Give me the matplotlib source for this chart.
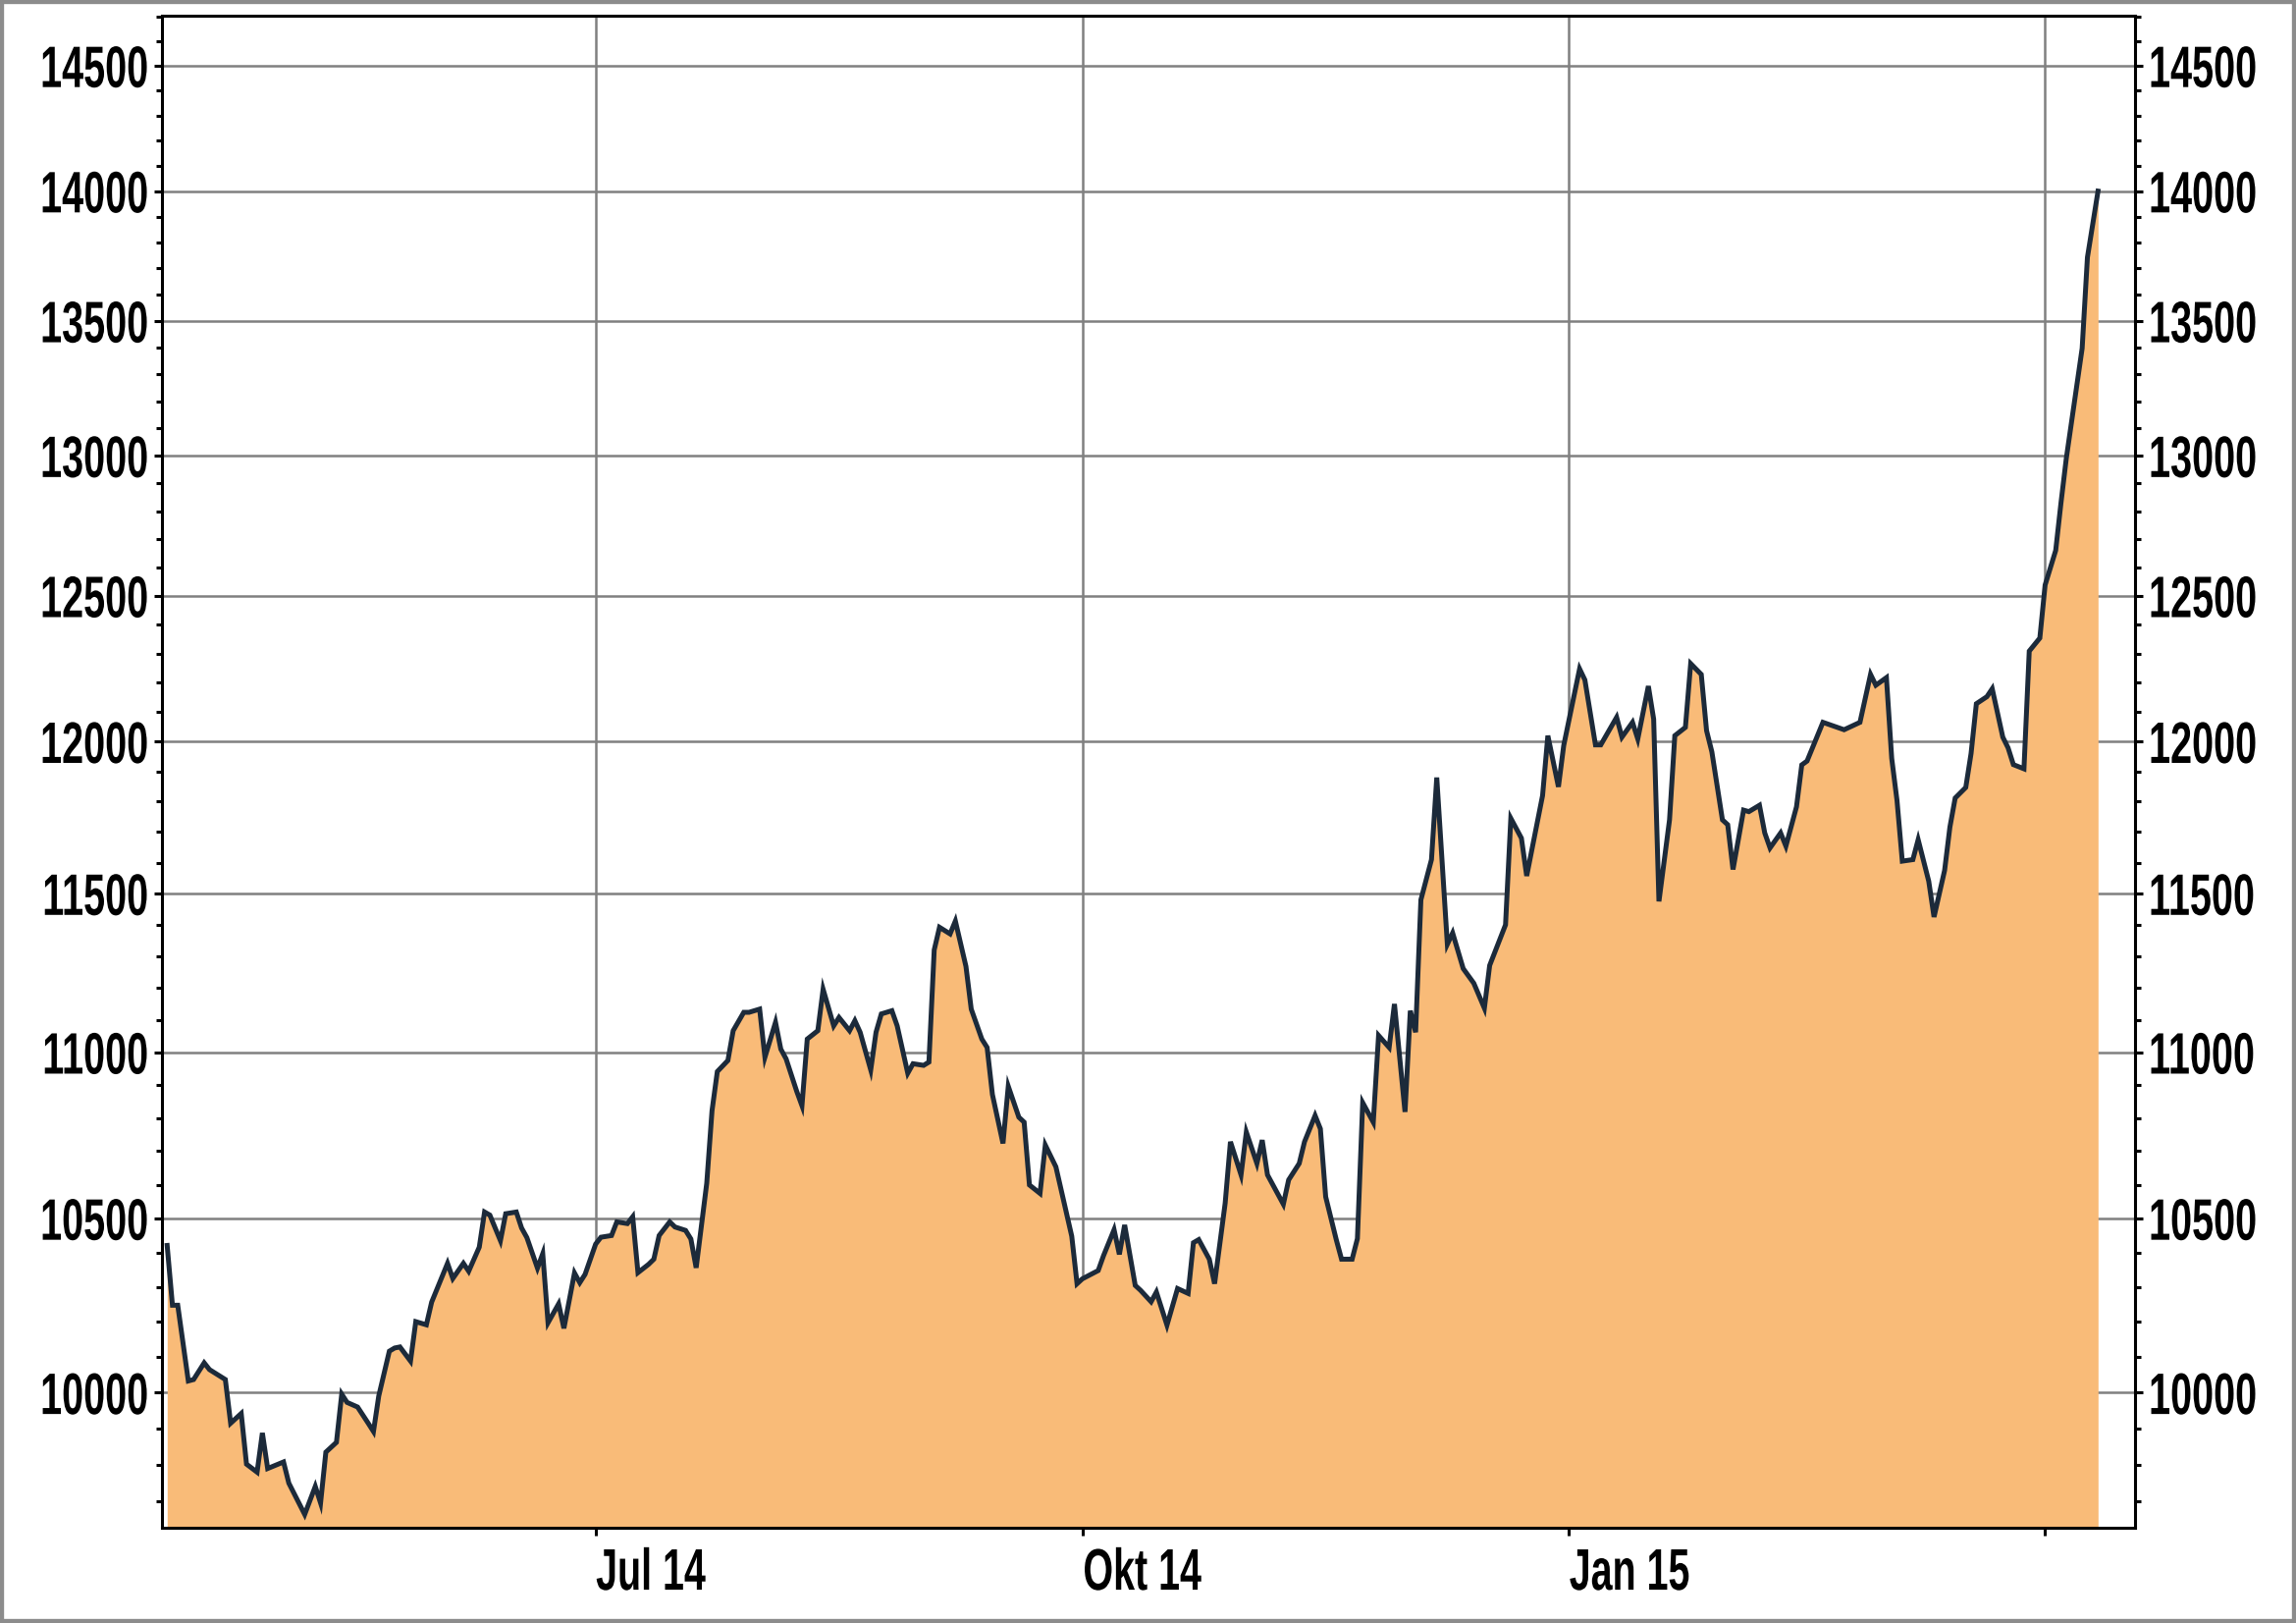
import matplotlib
matplotlib.use('Agg')
import matplotlib.pyplot as plt
import matplotlib.ticker as mticker
from matplotlib.patches import Rectangle
from matplotlib.patheffects import AbstractPathEffect
from matplotlib.transforms import Affine2D
import pandas as pd

# index level (one point per visible vertex)
dates = [
    '2014-04-11', '2014-04-12', '2014-04-13', '2014-04-15', '2014-04-16', '2014-04-18',
    '2014-04-19', '2014-04-22', '2014-04-23', '2014-04-25', '2014-04-26', '2014-04-28',
    '2014-04-29', '2014-04-30', '2014-05-03', '2014-05-04', '2014-05-07', '2014-05-09',
    '2014-05-10', '2014-05-11', '2014-05-13', '2014-05-14', '2014-05-15', '2014-05-17',
    '2014-05-19', '2014-05-20', '2014-05-21', '2014-05-23', '2014-05-24', '2014-05-25',
    '2014-05-27', '2014-05-28', '2014-05-30', '2014-05-31', '2014-06-03', '2014-06-04',
    '2014-06-06', '2014-06-07', '2014-06-09', '2014-06-10', '2014-06-11', '2014-06-13',
    '2014-06-14', '2014-06-16', '2014-06-17', '2014-06-18', '2014-06-20', '2014-06-21',
    '2014-06-22', '2014-06-24', '2014-06-25', '2014-06-27', '2014-06-28', '2014-06-29',
    '2014-07-01', '2014-07-02', '2014-07-04', '2014-07-05', '2014-07-07', '2014-07-08',
    '2014-07-09', '2014-07-11', '2014-07-12', '2014-07-13', '2014-07-15', '2014-07-16',
    '2014-07-18', '2014-07-19', '2014-07-20', '2014-07-22', '2014-07-23', '2014-07-24',
    '2014-07-26', '2014-07-27', '2014-07-29', '2014-07-30', '2014-08-01', '2014-08-02',
    '2014-08-04', '2014-08-05', '2014-08-06', '2014-08-08', '2014-08-09', '2014-08-10',
    '2014-08-12', '2014-08-13', '2014-08-15', '2014-08-16', '2014-08-18', '2014-08-19',
    '2014-08-20', '2014-08-22', '2014-08-23', '2014-08-24', '2014-08-26', '2014-08-27',
    '2014-08-29', '2014-08-30', '2014-09-01', '2014-09-02', '2014-09-03', '2014-09-04',
    '2014-09-06', '2014-09-07', '2014-09-09', '2014-09-10', '2014-09-12', '2014-09-13',
    '2014-09-14', '2014-09-16', '2014-09-17', '2014-09-19', '2014-09-20', '2014-09-21',
    '2014-09-23', '2014-09-24', '2014-09-26', '2014-09-27', '2014-09-29', '2014-09-30',
    '2014-10-01', '2014-10-04', '2014-10-05', '2014-10-07', '2014-10-08', '2014-10-09',
    '2014-10-11', '2014-10-12', '2014-10-14', '2014-10-15', '2014-10-17', '2014-10-19',
    '2014-10-21', '2014-10-22', '2014-10-23', '2014-10-25', '2014-10-26', '2014-10-28',
    '2014-10-29', '2014-10-31', '2014-11-01', '2014-11-03', '2014-11-04', '2014-11-05',
    '2014-11-08', '2014-11-09', '2014-11-11', '2014-11-12', '2014-11-14', '2014-11-15',
    '2014-11-16', '2014-11-18', '2014-11-19', '2014-11-21', '2014-11-22', '2014-11-23',
    '2014-11-25', '2014-11-26', '2014-11-28', '2014-11-29', '2014-12-01', '2014-12-02',
    '2014-12-03', '2014-12-04', '2014-12-06', '2014-12-07', '2014-12-09', '2014-12-10',
    '2014-12-12', '2014-12-14', '2014-12-16', '2014-12-17', '2014-12-20', '2014-12-21',
    '2014-12-23', '2014-12-24', '2014-12-27', '2014-12-28', '2014-12-30', '2014-12-31',
    '2015-01-03', '2015-01-04', '2015-01-06', '2015-01-07', '2015-01-10', '2015-01-11',
    '2015-01-13', '2015-01-14', '2015-01-16', '2015-01-17', '2015-01-18', '2015-01-20',
    '2015-01-21', '2015-01-23', '2015-01-24', '2015-01-26', '2015-01-27', '2015-01-28',
    '2015-01-30', '2015-01-31', '2015-02-01', '2015-02-03', '2015-02-04', '2015-02-06',
    '2015-02-07', '2015-02-08', '2015-02-10', '2015-02-11', '2015-02-13', '2015-02-14',
    '2015-02-15', '2015-02-18', '2015-02-22', '2015-02-25', '2015-02-27', '2015-02-28',
    '2015-03-02', '2015-03-03', '2015-03-04', '2015-03-05', '2015-03-07', '2015-03-08',
    '2015-03-10', '2015-03-11', '2015-03-13', '2015-03-14', '2015-03-15', '2015-03-17',
    '2015-03-18', '2015-03-19', '2015-03-21', '2015-03-22', '2015-03-24', '2015-03-25',
    '2015-03-26', '2015-03-28', '2015-03-29', '2015-03-31', '2015-04-01', '2015-04-03',
    '2015-04-04', '2015-04-05', '2015-04-08', '2015-04-09', '2015-04-11',
]
values = [
    10421, 10248, 10248, 10033, 10037, 10084,
    10065, 10037, 9915, 9942, 9802, 9780,
    9888, 9790, 9808, 9750, 9665, 9741,
    9696, 9835, 9862, 9996, 9973, 9960,
    9915, 9892, 9991, 10117, 10126, 10129,
    10089, 10201, 10192, 10257, 10369, 10325,
    10369, 10346, 10416, 10519, 10510, 10435,
    10514, 10519, 10472, 10444, 10355, 10397,
    10198, 10252, 10182, 10341, 10313, 10337,
    10425, 10445, 10450, 10490, 10485, 10505,
    10342, 10366, 10381, 10450, 10490, 10475,
    10465, 10440, 10356, 10604, 10822, 10941,
    10975, 11067, 11124, 11124, 11134, 10985,
    11093, 11010, 10980, 10881, 10837, 11041,
    11067, 11196, 11082, 11108, 11067, 11098,
    11062, 10946, 11062, 11119, 11129, 11082,
    10936, 10965, 10960, 10970, 11320, 11392,
    11371, 11412, 11268, 11134, 11041, 11015,
    10871, 10723, 10896, 10802, 10787, 10599,
    10574, 10718, 10653, 10584, 10448, 10310,
    10324, 10348, 10391, 10467, 10395, 10481,
    10305, 10291, 10258, 10286, 10191, 10296,
    10282, 10429, 10438, 10381, 10310, 10545,
    10728, 10629, 10757, 10663, 10733, 10629,
    10542, 10614, 10663, 10728, 10807, 10767,
    10564, 10438, 10381, 10381, 10441, 10846,
    10787, 11052, 11015, 11150, 10818, 11129,
    11062, 11480, 11610, 11880, 11338, 11374,
    11261, 11215, 11137, 11271, 11400, 11745,
    11680, 11557, 11820, 12020, 11849, 11987,
    12247, 12209, 11989, 11989, 12082, 12015,
    12065, 12009, 12188, 12076, 11475, 11740,
    12020, 12048, 12265, 12228, 12037, 11966,
    11740, 11724, 11578, 11772, 11767, 11788,
    11697, 11648, 11697, 11654, 11783, 11922,
    11935, 12065, 12040, 12065, 12228, 12191,
    12217, 11944, 11804, 11605, 11610, 11675,
    11540, 11425, 11575, 11716, 11812, 11847,
    11960, 12128, 12152, 12179, 12015, 11979,
    11923, 11909, 12308, 12353, 12538, 12660,
    12830, 12990, 13397, 13743, 14000,
]

y_ticks = [10000, 10500, 11000, 11500, 12000, 12500, 13000, 13500, 14000, 14500]
y_minor = list(range(9700, 14701, 100))
x_ticks = ['2014-07-01', '2014-10-01', '2015-01-01', '2015-04-01']
x_labels = ['Jul 14', 'Okt 14', 'Jan 15', '']

FILL = '#F9BB78'
LINE = '#1C2A3A'
GRID = '#808080'


class Narrow(AbstractPathEffect):
    """Rescale glyphs to fake a tall condensed typeface."""

    def __init__(self, sx, sy=1.0, keep='left'):
        super().__init__()
        self.sx = sx
        self.sy = sy
        self.keep = keep

    def draw_path(self, renderer, gc, tpath, affine, rgbFace=None):
        ext = tpath.get_extents()
        x0 = ext.x1 if self.keep == 'right' else ext.x0
        y0 = 0.5 * (ext.y0 + ext.y1)
        squeeze = (Affine2D().translate(-x0, -y0)
                   .scale(self.sx, self.sy).translate(x0, y0))
        renderer.draw_path(gc, tpath, squeeze + affine, rgbFace)


plt.rcParams['font.family'] = ['Liberation Sans', 'DejaVu Sans']
plt.rcParams['font.weight'] = 'bold'

fig = plt.figure(figsize=(23.39, 16.53), dpi=100)
ax = fig.add_axes([0.0705, 0.0587, 0.8594, 0.9318])

x = pd.to_datetime(dates)
ymin, ymax = 9629, 14706
ax.set_yscale('log')
ax.fill_between(x, values, ymin, color=FILL, lw=0, zorder=2)
ax.plot(x, values, color=LINE, lw=3.6, zorder=3, solid_joinstyle='miter')
ax.set_ylim(ymin, ymax)
ax.set_xlim(pd.Timestamp('2014-04-10'), pd.Timestamp('2015-04-18'))

ax.yaxis.set_major_locator(mticker.FixedLocator(y_ticks))
ax.yaxis.set_major_formatter(mticker.FuncFormatter(lambda v, p: f'{v:.0f}'))
ax.yaxis.set_minor_locator(mticker.FixedLocator(y_minor))
ax.yaxis.set_minor_formatter(mticker.NullFormatter())
ax.set_xticks(pd.to_datetime(x_ticks))
ax.set_xticklabels(x_labels)

ax.set_axisbelow(True)
ax.grid(True, which='major', color=GRID, lw=1.8)
ax.tick_params(axis='y', which='major', left=True, right=True, labelleft=True,
               labelright=True, length=6, width=2.2, labelsize=30, pad=4)
ax.tick_params(axis='y', which='minor', left=True, right=True, length=4, width=2.2)
ax.tick_params(axis='x', length=6, width=2.2, labelsize=43, pad=8.5)
for s in ax.spines.values():
    s.set_linewidth(2.2)
    s.set_color('black')

for tick in ax.yaxis.get_major_ticks():
    tick.label1.set_path_effects([Narrow(0.95, 1.43, 'right')])
    tick.label2.set_path_effects([Narrow(0.95, 1.43, 'left')])
for tick in ax.xaxis.get_major_ticks():
    tick.label1.set_horizontalalignment('left')
    tick.label1.set_path_effects([Narrow(0.66, 1.0, 'left')])

fig.patches.append(Rectangle((0, 0), 1, 1, transform=fig.transFigure, fill=False,
                             edgecolor='#8c8c8c', lw=6))

fig.savefig('out.png', dpi=100)
